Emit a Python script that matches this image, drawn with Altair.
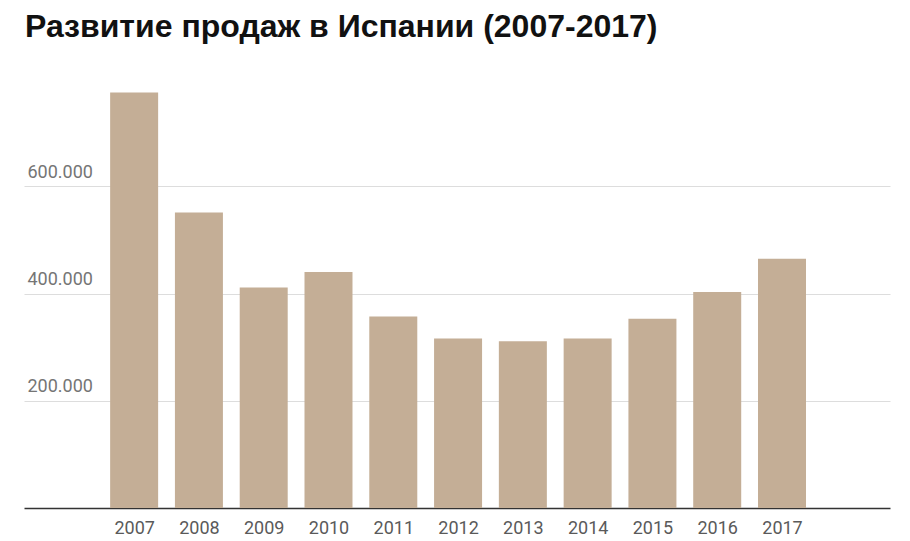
import altair as alt
import pandas as pd

years = [2007, 2008, 2009, 2010, 2011, 2012, 2013, 2014, 2015, 2016, 2017]
sales = [775000, 551000, 411000, 440000, 357000, 316000, 311000, 316000, 353000, 403000, 465000]
y_ticks = [200000, 400000, 600000]

df = pd.DataFrame({"year": years, "sales": sales})

chart = alt.Chart(df).mark_bar(color="#c4ae96", size=48).encode(
    x=alt.X(
        "year:Q",
        title=None,
        scale=alt.Scale(domain=[2005.30, 2018.667], nice=False, zero=False, padding=0),
        axis=alt.Axis(
            values=years,
            format="d",
            labelAngle=0,
            labelFlush=False,
            labelFont="Roboto",
            labelFontSize=18,
            labelColor="#5a5a5a",
            labelPadding=11,
            ticks=False,
            domainColor="#333333",
            domainWidth=1.5,
            grid=False,
        ),
    ),
    y=alt.Y(
        "sales:Q",
        title=None,
        scale=alt.Scale(domain=[0, 800000], nice=False),
        axis=alt.Axis(
            values=y_ticks,
            labelExpr="replace(format(datum.value, ',d'), /,/g, '.')",
            labelAlign="left",
            labelBaseline="alphabetic",
            labelOffset=-9,
            labelPadding=-3,
            ticks=False,
            tickSize=0,
            domain=False,
            grid=True,
            gridColor="#dddddd",
            gridWidth=1,
            labelFont="Roboto",
            labelFontSize=18,
            labelColor="#757575",
        ),
    ),
).properties(
    width=866,
    height=429,
    background="white",
    title=alt.TitleParams(
        "Развитие продаж в Испании (2007-2017)",
        anchor="start",
        font="Liberation Sans",
        fontSize=32,
        fontWeight="bold",
        color="#111111",
        baseline="alphabetic",
        offset=10,
        dx=1,
    ),
    autosize=alt.AutoSizeParams(type="none"),
    padding={"left": 16, "top": 71, "right": 12, "bottom": 30},
).configure_view(stroke=None)

chart.save("out.html", embed_options={"renderer": "svg", "actions": False})
